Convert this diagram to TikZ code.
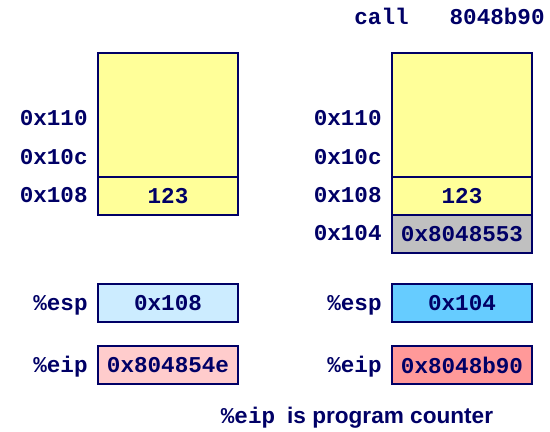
\documentclass[tikz,border=0pt]{standalone}
\usepackage{fontspec}
\setmonofont{Liberation Mono}
\setsansfont{Liberation Sans}
\usetikzlibrary{positioning}
\definecolor{navy}{HTML}{000066}
\definecolor{memyellow}{HTML}{FFFF99}
\definecolor{retgray}{HTML}{C0C0C0}
\definecolor{espold}{HTML}{CCECFF}
\definecolor{espnew}{HTML}{66CCFF}
\definecolor{eipold}{HTML}{FFCCCC}
\definecolor{eipnew}{HTML}{FF9999}
\newcommand{\codefont}{\fontsize{11.3}{13}\selectfont\ttfamily\bfseries}

\begin{document}
\begin{tikzpicture}[x=0.5pt, y=-0.5pt,
    cell/.style = {draw=navy, line width=1pt, minimum width=70pt, minimum height=19pt, inner sep=0pt, outer sep=0pt, text=navy, font=\codefont},
    addr/.style = {inner sep=0pt, text height=7pt, text depth=0pt, text=navy, font=\codefont}]
\useasboundingbox (0,0) rectangle (550,432);
% before the call
\node[cell, fill=memyellow, minimum height=62pt, anchor=north west] (topl) at (98,53) {};
\node[cell, fill=memyellow] (m108l) [below=0pt of topl] {123};
\node[addr] (a108l) [left=5pt of m108l] {0x108};
\node[addr] (a10cl) [above=12pt of a108l] {0x10c};
\node[addr] (a110l) [above=12pt of a10cl] {0x110};
\node[cell, fill=espold] (espl) [below=34.5pt of m108l] {0x108};
\node[cell, fill=eipold] (eipl) [below=12pt of espl] {0x804854e};
\node[addr] (resp) [left=5pt of espl] {\%esp};
\node[addr] (reip) [left=5pt of eipl] {\%eip};
% after the call
\node[cell, fill=memyellow, minimum height=62pt, anchor=north west] (topr) at (392,53) {};
\node[cell, fill=memyellow] (m108r) [below=0pt of topr] {123};
\node[cell, fill=retgray] (m104r) [below=0pt of m108r] {0x8048553};
\node[addr] (a108r) [left=5pt of m108r] {0x108};
\node[addr] (a104r) [left=5pt of m104r] {0x104};
\node[addr] (a10cr) [above=12pt of a108r] {0x10c};
\node[addr] (a110r) [above=12pt of a10cr] {0x110};
\node[cell, fill=espnew] (espr) [right=77pt of espl] {0x104};
\node[cell, fill=eipnew] (eipr) [right=77pt of eipl] {0x8048b90};
\node[addr] (respr) [left=5pt of espr] {\%esp};
\node[addr] (reipr) [left=5pt of eipr] {\%eip};
% instruction and note
\node[anchor=base west, inner sep=0pt, text=navy, font=\codefont] (callins) at (354,25) {call\hspace{20.5pt}8048b90};
\node[anchor=base, inner sep=0pt, text=navy] (note) at (357,423) {{\codefont\%eip}\hspace{6pt}{\fontsize{11.3}{13}\selectfont\sffamily\bfseries is program counter}};
\end{tikzpicture}
\end{document}
